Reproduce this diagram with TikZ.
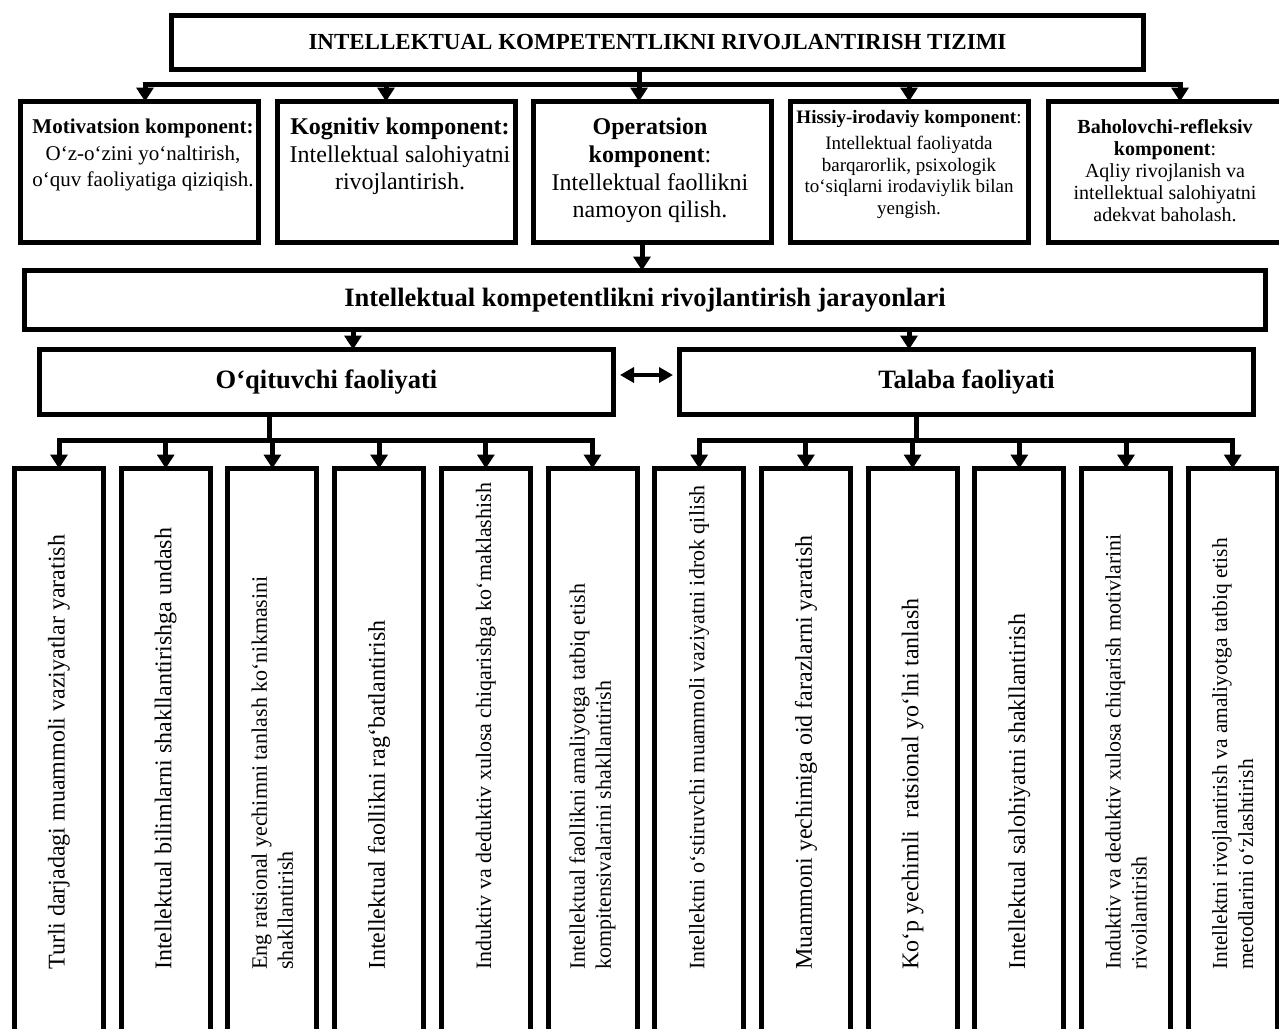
\documentclass[tikz,border=0pt]{standalone}
\usepackage{fontspec}
\setmainfont{Liberation Serif}
\usetikzlibrary{arrows.meta,calc}
\newcommand{\setfs}[2]{\fontsize{#1}{#2}\selectfont}
\tikzset{
  frame/.style={draw=black, line width=5pt, inner sep=0pt, outer sep=0pt},
  link/.style={line width=5pt, line cap=rect},
  arr/.style={line width=5pt, -{Triangle[length=14pt,width=17pt]}},
  dblarr/.style={line width=3.5pt, {Triangle[length=14pt,width=15pt]}-{Triangle[length=14pt,width=15pt]}},
  vtext/.style={rotate=90, anchor=west, align=left, inner sep=0pt},
  ctext/.style={anchor=north, align=center, inner sep=0pt},
  compbox/.style={frame, minimum width=238pt, minimum height=141pt},
  lowbox/.style={frame, minimum width=89pt, minimum height=582pt},
}
\begin{document}
\begin{tikzpicture}[x=1pt,y=-1pt]
\useasboundingbox (0,0) rectangle (1279,1028);
\clip (0,0) rectangle (1279,1028);
\fill[white] (0,0) rectangle (1279,1028);

% title
\node[frame, minimum width=972pt, minimum height=54pt, font=\setfs{23}{27}\bfseries] (title) at (657.5,42.5)
  {INTELLEKTUAL KOMPETENTLIKNI RIVOJLANTIRISH TIZIMI};

% component boxes
\node[compbox] (m1) at (139.5,172) {};
\node[compbox] (m2) at (396.5,172) {};
\node[compbox] (m3) at (652,172) {};
\node[compbox] (m4) at (909,172) {};
\node[compbox] (m5) at (1167.5,172) {};

\node[ctext, font=\setfs{21}{26.5}] (t1) at (143,119) {\textbf{Motivatsion komponent:}\\O‘z-o‘zini yo‘naltirish,\\o‘quv faoliyatiga qiziqish.};
\node[ctext, font=\setfs{24}{27.5}] (t2) at (400,118) {\textbf{Kognitiv komponent:}\\Intellektual salohiyatni\\rivojlantirish.};
\node[ctext, font=\setfs{24}{27.7}] (t3) at (650,118) {\textbf{Operatsion}\\\textbf{komponent}:\\Intellektual faollikni\\namoyon qilish.};
\node[ctext, font=\setfs{19}{21.5}] (t4) at (909,110) {\textbf{Hissiy-irodaviy komponent}:\\[5pt]Intellektual faoliyatda\\barqarorlik, psixologik\\to‘siqlarni irodaviylik bilan\\yengish.};
\node[ctext, font=\setfs{20}{22}] (t5) at (1165,119) {\textbf{Baholovchi-refleksiv}\\\textbf{komponent}:\\Aqliy rivojlanish va\\intellektual salohiyatni\\adekvat baholash.};

% title connectors
\coordinate (j1) at (145,84);
\coordinate (j2) at (386,84);
\coordinate (j3) at (639,84);
\coordinate (j4) at (909,84);
\coordinate (j5) at (1180,84);
\draw[link] (title.south -| j3) -- (j3);
\draw[link] (j1) -- (j5);
\draw[arr] (j1) -- (j1 |- m1.north);
\draw[arr] (j2) -- (j2 |- m2.north);
\draw[arr] (j3) -- (j3 |- m3.north);
\draw[arr] (j4) -- (j4 |- m4.north);
\draw[arr] (j5) -- (j5 |- m5.north);

% process box
\node[frame, minimum width=1241pt, minimum height=59pt, font=\setfs{26.5}{30}\bfseries] (proc) at (645,300)
  {Intellektual kompetentlikni rivojlantirish jarayonlari};
\coordinate (k) at (642,0);
\draw[arr] (m3.south -| k) -- (proc.north -| k);

% teacher / student
\node[frame, minimum width=574pt, minimum height=65pt, font=\setfs{26.5}{30}\bfseries] (teach) at (326.5,382) {O‘qituvchi faoliyati};
\node[frame, minimum width=574pt, minimum height=65pt, font=\setfs{26.5}{30}\bfseries] (stud) at (966.5,382) {Talaba faoliyati};
\coordinate (p1) at (353,0);
\coordinate (p2) at (909,0);
\draw[arr] (proc.south -| p1) -- (teach.north -| p1);
\draw[arr] (proc.south -| p2) -- (stud.north -| p2);
\draw[dblarr] ($(teach.east)+(6.5,-7)$) -- ($(stud.west)+(-6.5,-7)$);

% bottom boxes
\foreach \i in {1,...,12} {
  \node[lowbox] (b\i) at ({59+(\i-1)*106.7},759.5) {};
}

% branches
\coordinate (tv) at (269,440);
\coordinate (sv) at (916,440);
\draw[link] (teach.south -| tv) -- (tv);
\draw[link] (stud.south -| sv) -- (sv);
\draw[link] (b1.north |- tv) -- (b6.north |- tv);
\draw[link] (b7.north |- sv) -- (b12.north |- sv);
\foreach \i in {1,...,6} { \draw[arr] (b\i.north |- tv) -- (b\i.north); }
\foreach \i in {7,...,12} { \draw[arr] (b\i.north |- sv) -- (b\i.north); }

% vertical texts
\node[vtext, font=\setfs{24}{27}] (v1) at ($(b1.center |- 0,970)$) {Turli darjadagi muammoli vaziyatlar yaratish};
\node[vtext, font=\setfs{24}{27}] (v2) at ($(b2.center |- 0,970)$) {Intellektual bilimlarni shakllantirishga undash};
\node[vtext, font=\setfs{22}{26}] (v3) at ($(b3.center |- 0,970)$) {Eng ratsional yechimni tanlash ko‘nikmasini\\shakllantirish};
\node[vtext, font=\setfs{24}{27}] (v4) at ($(b4.center |- 0,970)$) {Intellektual faollikni rag‘batlantirish};
\node[vtext, font=\setfs{22}{26}] (v5) at ($(b5.center |- 0,970)$) {Induktiv va deduktiv xulosa chiqarishga ko‘maklashish};
\node[vtext, font=\setfs{22}{26}] (v6) at ($(b6.center |- 0,970)$) {Intellektual faollikni amaliyotga tatbiq etish\\kompitensivalarini shakllantirish};
\node[vtext, font=\setfs{22}{26}] (v7) at ($(b7.center |- 0,970)$) {Intellektni o‘stiruvchi muammoli vaziyatni idrok qilish};
\node[vtext, font=\setfs{24}{27}] (v8) at ($(b8.center |- 0,970)$) {Muammoni yechimiga oid farazlarni yaratish};
\node[vtext, font=\setfs{24}{27}] (v9) at ($(b9.center |- 0,970)$) {Ko‘p yechimli\ \ ratsional yo‘lni tanlash};
\node[vtext, font=\setfs{24}{27}] (v10) at ($(b10.center |- 0,970)$) {Intellektual salohiyatni shakllantirish};
\node[vtext, font=\setfs{22}{26}] (v11) at ($(b11.center |- 0,970)$) {Induktiv va deduktiv xulosa chiqarish motivlarini\\rivoilantirish};
\node[vtext, font=\setfs{21.5}{26}] (v12) at ($(b12.center |- 0,970)$) {Intellektni rivojlantirish va amaliyotga tatbiq etish\\metodlarini o‘zlashtirish};
\end{tikzpicture}
\end{document}
